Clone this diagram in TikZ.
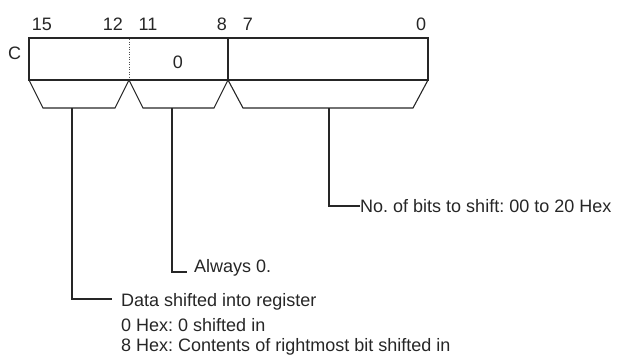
\documentclass[tikz,border=0pt]{standalone}
\usepackage{fontspec}
\setmainfont{Liberation Sans}
\frenchspacing
\begin{document}
\begin{tikzpicture}[x=1pt,y=-1pt,
  ln/.style={line width=1.1pt, draw=black!85},
  lbl/.style={inner sep=0pt, font=\fontsize{18}{21}\selectfont, text=black!85},
  dot/.style={line width=0.8pt, draw=black!70, dash pattern=on 1pt off 1.5pt}]
\useasboundingbox (0,0) rectangle (617,356);
% bit numbers
\node[lbl] (b15) at (42,24) {15};
\node[lbl] (b12) at (113,24) {12};
\node[lbl] (b11) at (148,24) {11};
\node[lbl] (b8) at (222,24) {8};
\node[lbl] (b7) at (248,24) {7};
\node[lbl] (b0) at (421,24) {0};
\node[lbl] (c) at (14.5,53) {C};
\node[lbl] (zero) at (178,62) {0};
% register box
\draw[ln] (29,38) rectangle (428,80);
\draw[dot] (129,39) -- (129,79);
\draw[ln] (228,38) -- (228,80);
% trapezoids
\draw[ln, line join=miter] (29,80) -- (43,108) -- (115,108) -- (129,80) -- (143,108) -- (214,108) -- (228,80) -- (243,108) -- (413,108) -- (428,80);
% leader start points
\coordinate (t1) at (72,108);
\coordinate (t2) at (172,108);
\coordinate (t3) at (329,108);
% texts
\node[lbl, anchor=west] (bitstxt) at (360,206) {No. of bits to shift: 00 to 20 Hex};
\node[lbl, anchor=west] (alw) at (194,268) {Always 0.};
\node[lbl, anchor=west] (d1) at (121,302) {Data shifted into register};
\node[lbl, anchor=west] (d2) at (121,325) {0 Hex: 0 shifted in};
\node[lbl, anchor=west] (d3) at (121,347) {8 Hex: Contents of rightmost bit shifted in};
% leaders
\coordinate (e3) at (360,206);
\coordinate (e2) at (187,272);
\coordinate (e1) at (112,299);
\draw[ln] (t3) |- (e3);
\draw[ln] (t2) |- (e2);
\draw[ln] (t1) |- (e1);
\end{tikzpicture}
\end{document}
